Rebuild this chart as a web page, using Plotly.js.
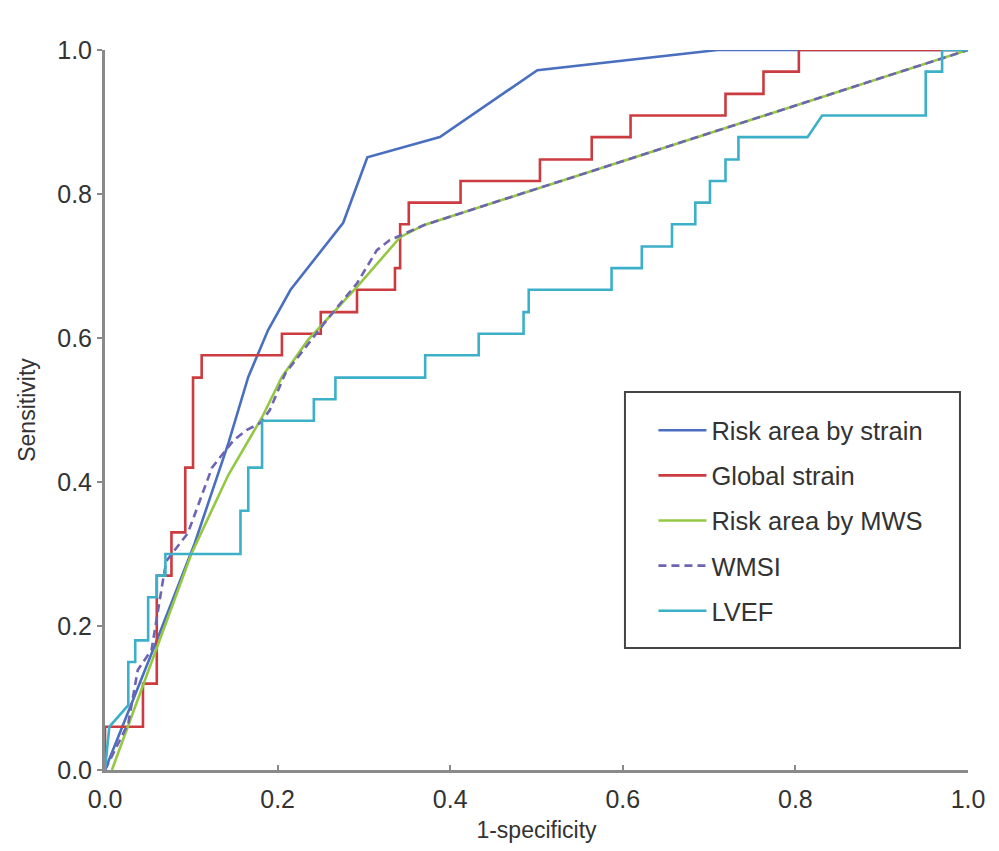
<!DOCTYPE html>
<html>
<head>
<meta charset="utf-8">
<script src="https://cdn.plot.ly/plotly-3.0.1.min.js"></script>
<style>html,body{margin:0;padding:0;background:#fff;}#chart{width:999px;height:851px;}</style>
</head>
<body>
<div id="chart"></div>
<script>
// Risk area by strain
const blueX = [0, 0.01, 0.03, 0.06, 0.104, 0.143, 0.166, 0.189, 0.215, 0.276, 0.304, 0.388, 0.501, 0.71, 1.0];
const blueY = [0, 0.03, 0.09, 0.18, 0.315, 0.454, 0.546, 0.611, 0.667, 0.760, 0.851, 0.879, 0.972, 1.0, 1.0];
// Global strain (step corners, drawn hv)
const redX = [0, 0, 0.044, 0.06, 0.077, 0.093, 0.102, 0.112, 0.205, 0.25, 0.292, 0.336, 0.342, 0.352, 0.412, 0.504, 0.564, 0.609, 0.719, 0.763, 0.804, 1.0];
const redY = [0, 0.06, 0.12, 0.27, 0.33, 0.42, 0.545, 0.576, 0.606, 0.636, 0.667, 0.697, 0.758, 0.788, 0.818, 0.848, 0.879, 0.909, 0.939, 0.970, 1.0, 1.0];
// Risk area by MWS
const greenX = [0.008, 0.06, 0.10, 0.143, 0.182, 0.205, 0.235, 0.292, 0.342, 0.37, 1.0];
const greenY = [0, 0.17, 0.30, 0.41, 0.49, 0.546, 0.597, 0.671, 0.74, 0.757, 1.0];
// WMSI
const purpleX = [0, 0.027, 0.038, 0.054, 0.066, 0.071, 0.096, 0.124, 0.149, 0.164, 0.18, 0.191, 0.209, 0.23, 0.257, 0.292, 0.315, 0.33, 0.338, 0.37, 1.0];
const purpleY = [0, 0.065, 0.139, 0.167, 0.255, 0.29, 0.329, 0.42, 0.458, 0.472, 0.482, 0.50, 0.551, 0.583, 0.625, 0.676, 0.722, 0.736, 0.74, 0.757, 1.0];
// LVEF
const cyanX = [0, 0.005, 0.027, 0.027, 0.035, 0.035, 0.05, 0.05, 0.06, 0.06, 0.07, 0.07, 0.157, 0.157, 0.166, 0.166, 0.182, 0.182, 0.242, 0.242, 0.267, 0.267, 0.371, 0.371, 0.433, 0.433, 0.485, 0.485, 0.491, 0.491, 0.587, 0.587, 0.622, 0.622, 0.657, 0.657, 0.684, 0.684, 0.701, 0.701, 0.719, 0.719, 0.734, 0.734, 0.814, 0.831, 0.951, 0.951, 0.970, 0.970, 1.0];
const cyanY = [0, 0.06, 0.09, 0.15, 0.15, 0.18, 0.18, 0.24, 0.24, 0.27, 0.27, 0.30, 0.30, 0.36, 0.36, 0.42, 0.42, 0.485, 0.485, 0.515, 0.515, 0.545, 0.545, 0.576, 0.576, 0.606, 0.606, 0.636, 0.636, 0.667, 0.667, 0.697, 0.697, 0.727, 0.727, 0.758, 0.758, 0.788, 0.788, 0.818, 0.818, 0.848, 0.848, 0.879, 0.879, 0.909, 0.909, 0.970, 0.970, 1.0, 1.0];

const names = ['Risk area by strain', 'Global strain', 'Risk area by MWS', 'WMSI', 'LVEF'];
const tickVals = [0, 0.2, 0.4, 0.6, 0.8, 1.0];
const tickText = ['0.0', '0.2', '0.4', '0.6', '0.8', '1.0'];

const font = 'Arial, "Liberation Sans", Helvetica, sans-serif';
function tr(x, y, name, color, extra) {
  return Object.assign({
    type: 'scatter', mode: 'lines', x: x, y: y, name: name, legendgroup: name,
    cliponaxis: false,
    line: {color: color, width: 2.6}
  }, extra || {});
}
const data = [
  tr(blueX, blueY, names[0], '#4a6fbf'),
  tr(redX, redY, names[1], '#cc3b3f', {line: {color: '#cc3b3f', width: 2.6, shape: 'hv'}}),
  tr(greenX, greenY, names[2], '#94c843'),
  tr(purpleX, purpleY, names[3], '#6e64b4', {line: {color: '#6e64b4', width: 2.6, dash: '8px,5px'}}),
  tr(cyanX, cyanY, names[4], '#3cb0c8')
];

const layout = {
  width: 999, height: 851,
  margin: {l: 105, r: 31, t: 50, b: 81},
  paper_bgcolor: '#fff', plot_bgcolor: '#fff',
  font: {family: font, color: '#333', size: 22},
  showlegend: true,
  legend: {
    x: 0.6355, y: 0.504, xanchor: 'left', yanchor: 'top',
    bgcolor: 'rgba(0,0,0,0)', borderwidth: 0,
    font: {family: font, size: 25.5, color: '#333'},
    traceorder: 'grouped', tracegroupgap: 9, itemwidth: 48
  },
  xaxis: {
    range: [0, 1], tickvals: tickVals, ticktext: tickText,
    showline: true, linecolor: '#8a8a8a', linewidth: 3, mirror: false,
    ticks: 'inside', ticklen: 5, tickwidth: 2, tickcolor: '#8a8a8a',
    showgrid: false, zeroline: false, ticklabelstandoff: 5,
    tickfont: {family: font, size: 25, color: '#333'},
    title: {text: '1-specificity', font: {family: font, size: 23, color: '#333'}, standoff: 10}
  },
  yaxis: {
    range: [0, 1], tickvals: tickVals, ticktext: tickText,
    showline: true, linecolor: '#8a8a8a', linewidth: 3, mirror: false,
    ticks: 'outside', ticklen: 5, tickwidth: 2, tickcolor: '#8a8a8a',
    showgrid: false, zeroline: false,
    tickfont: {family: font, size: 25, color: '#333'},
    title: {text: 'Sensitivity', font: {family: font, size: 23, color: '#333'}, standoff: 16}
  },
  shapes: [{
    type: 'rect', xref: 'paper', yref: 'paper',
    x0: 0.6025, x1: 0.9907, y0: 0.1695, y1: 0.525,
    line: {color: '#444', width: 2}, fillcolor: 'rgba(0,0,0,0)', layer: 'above'
  }]
};

Plotly.newPlot('chart', data, layout, {displayModeBar: false, staticPlot: true});
</script>
</body>
</html>
